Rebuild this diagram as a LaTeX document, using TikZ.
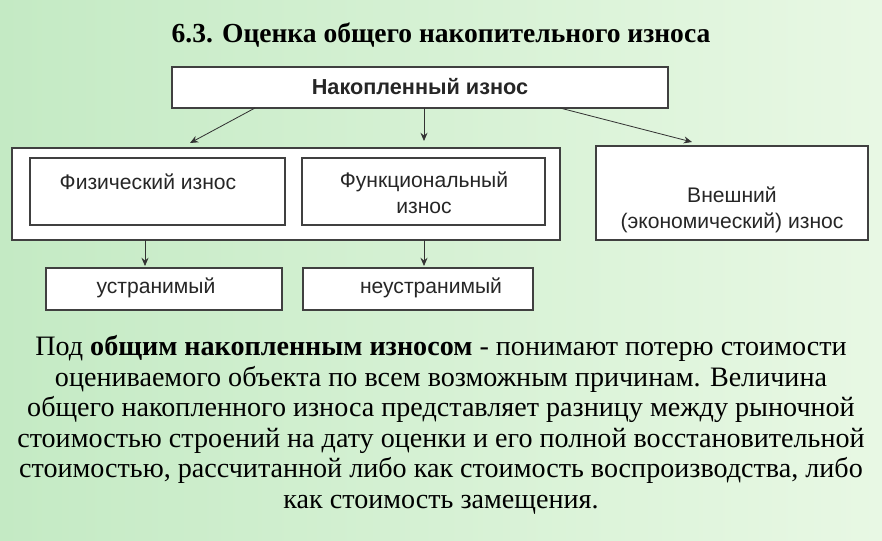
\documentclass[tikz,border=0pt]{standalone}
\usepackage{fontspec}
\setmainfont{Liberation Serif}
\newfontfamily\arialf{Liberation Sans}
\usetikzlibrary{arrows.meta}
\definecolor{bgl}{RGB}{196,234,196}
\definecolor{bgr}{RGB}{232,248,228}
\begin{document}
\begin{tikzpicture}[x=0.03cm,y=-0.03cm,
  bx/.style={draw=black!75,line width=0.9pt,fill=white},
  lbl/.style={font=\arialf\fontsize{18}{22}\selectfont,align=center,text=black!85},
  arr/.style={-{Stealth[length=7pt,width=6pt]},line width=0.7pt,black!80}]
\shade[left color=bgl,right color=bgr] (0,0) rectangle (882,541);
\useasboundingbox (0,0) rectangle (882,541);
\node (title) at (441,35) {\fontsize{23.5}{26}\selectfont\bfseries 6.3. Оценка общего накопительного износа};
\draw[bx] (172,67) rectangle (668,108);
\node[lbl,font=\arialf\bfseries\fontsize{18.5}{22}\selectfont] (top) at (420,87) {Накопленный износ};
\draw[bx] (12,148) rectangle (560,240);
\draw[bx] (30,158) rectangle (285,225);
\node[lbl] (fiz) at (148,182) {Физический износ};
\draw[bx] (302,158) rectangle (545,225);
\node[lbl] (fun) at (424,193) {Функциональный\\износ};
\draw[bx] (596,146) rectangle (868,240);
\node[lbl] (ext) at (732,210) {Внешний\\(экономический) износ};
\draw[bx] (46,268) rectangle (282,310);
\node[lbl] (u) at (156,288) {устранимый};
\draw[bx] (303,268) rectangle (533,310);
\node[lbl] (nu) at (431,288) {неустранимый};
\coordinate (a1) at (255,108); \coordinate (a1e) at (190,143);
\coordinate (a2) at (424,108); \coordinate (a2e) at (424,141);
\coordinate (a3) at (560,108); \coordinate (a3e) at (692,142);
\coordinate (b1) at (145,240); \coordinate (b1e) at (145,266);
\coordinate (b2) at (424,240); \coordinate (b2e) at (424,266);
\draw[arr] (a1)--(a1e);
\draw[arr] (a2)--(a2e);
\draw[arr] (a3)--(a3e);
\draw[arr] (b1)--(b1e);
\draw[arr] (b2)--(b2e);
\node[align=center,font=\fontsize{24}{26}\selectfont] (para) at (441,425) {Под \textbf{общим накопленным износом} - понимают потерю стоимости\\оцениваемого объекта по всем возможным причинам. Величина\\общего накопленного износа представляет разницу между рыночной\\стоимостью строений на дату оценки и его полной восстановительной\\стоимостью, рассчитанной либо как стоимость воспроизводства, либо\\как стоимость замещения.};
\end{tikzpicture}
\end{document}
